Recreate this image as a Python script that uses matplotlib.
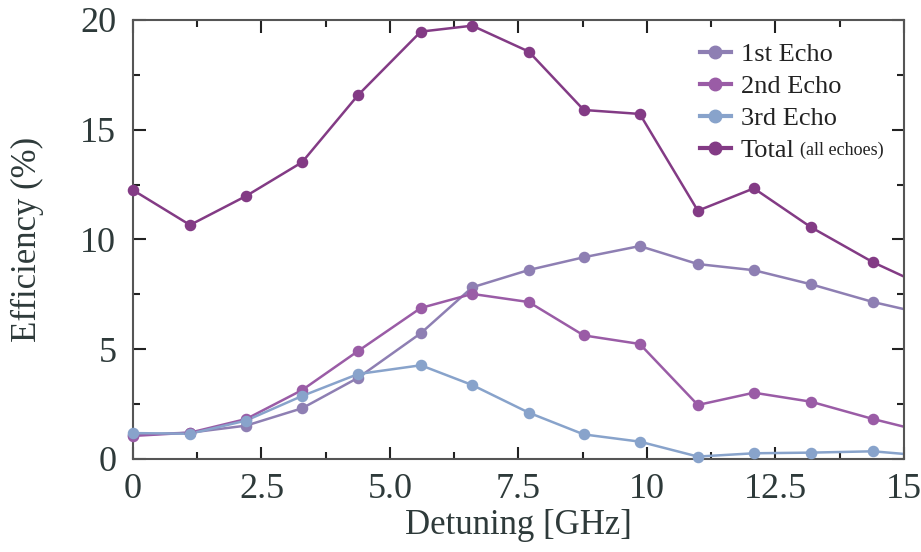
import matplotlib
matplotlib.use("Agg")
import matplotlib.pyplot as plt
from matplotlib.ticker import MultipleLocator

plt.rcParams['font.family'] = ['Liberation Serif', 'DejaVu Serif']

detuning = [0.0, 1.11, 2.2, 3.29, 4.38, 5.6, 6.6, 7.7, 8.77, 9.86, 10.99, 12.08, 13.19, 14.4, 15.5]
echo1 = [1.10, 1.20, 1.52, 2.31, 3.70, 5.73, 7.82, 8.61, 9.19, 9.70, 8.88, 8.60, 7.96, 7.15, 6.56]
echo2 = [1.05, 1.20, 1.82, 3.14, 4.92, 6.88, 7.52, 7.15, 5.63, 5.24, 2.46, 3.02, 2.61, 1.82, 1.18]
echo3 = [1.18, 1.15, 1.75, 2.87, 3.87, 4.27, 3.37, 2.11, 1.12, 0.79, 0.11, 0.26, 0.29, 0.35, 0.13]
total = [12.25, 10.66, 11.98, 13.52, 16.58, 19.47, 19.74, 18.56, 15.90, 15.72, 11.31, 12.33, 10.56, 8.96, 7.77]

labels = ["1st Echo", "2nd Echo", "3rd Echo", "Total"]
colors = ["#8e7fb3", "#9a5ca6", "#88a3cb", "#833b85"]
values = [echo1, echo2, echo3, total]
xticks = [0, 2.5, 5, 7.5, 10, 12.5, 15]
xticklabels = ["0", "2.5", "5.0", "7.5", "10", "12.5", "15"]
yticks = [0, 5, 10, 15, 20]
yticklabels = ["0", "5", "10", "15", "20"]

text_color = "#2e3a3a"

fig = plt.figure(figsize=(9.21, 5.52), dpi=100)
ax = fig.add_axes([0.1444, 0.1685, 0.8371, 0.7953])

for label, vals, col in zip(labels, values, colors):
    ax.plot(detuning, vals, color=col, lw=1.8, zorder=2)
    xs = [x for x in detuning if x <= 15]
    ys = [v for x, v in zip(detuning, vals) if x <= 15]
    ax.plot(xs, ys, ls='none', marker='o', ms=7.3, color=col, clip_on=False, zorder=3)

ax.set_xlim(0, 15)
ax.set_ylim(0, 20)
ax.set_xticks(xticks)
ax.set_xticklabels(xticklabels)
ax.set_yticks(yticks)
ax.set_yticklabels(yticklabels)
ax.xaxis.set_minor_locator(MultipleLocator(1.25))
ax.yaxis.set_minor_locator(MultipleLocator(2.5))

ax.tick_params(which='both', direction='in', top=True, right=True, color='#222222', width=1.5,
               labelsize=26, labelcolor=text_color)
ax.tick_params(which='major', length=9)
ax.tick_params(which='minor', length=5)
ax.tick_params(axis='x', pad=10)
ax.tick_params(axis='y', pad=12)
for sp in ax.spines.values():
    sp.set_color('#555555')
    sp.set_linewidth(1.5)

ax.set_xlabel("Detuning [GHz]", fontsize=25, color=text_color, labelpad=2)
ax.set_ylabel("Efficiency (%)", fontsize=25, color=text_color, labelpad=26)

handles = [plt.Line2D([], [], color=c, lw=3, marker='o', ms=9) for c in colors]
leg = ax.legend(handles, labels, loc='upper left', frameon=False, fontsize=19,
                handlelength=1.2, handletextpad=0.35, labelspacing=0.32,
                bbox_to_anchor=(0.735, 0.948), borderaxespad=0.0, borderpad=0.0)
for t in leg.get_texts():
    t.set_color('#222222')

fig.canvas.draw()
bb = leg.get_texts()[3].get_window_extent()
fig.text(bb.x1 + 6, bb.y0 + 3, "(all echoes)", transform=None, fontsize=13,
         color='#222222', ha='left', va='bottom')

fig.savefig("out.png", dpi=100)
